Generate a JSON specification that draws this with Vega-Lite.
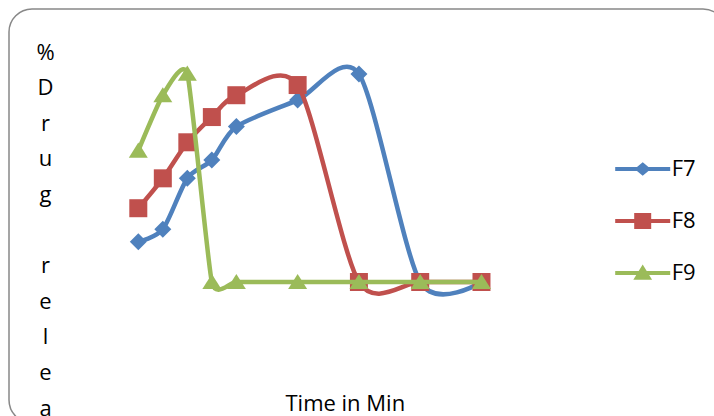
{
  "$schema": "https://vega.github.io/schema/vega-lite/v6.json",
  "width": 717,
  "height": 414,
  "autosize": {"type": "none"},
  "padding": {"left": 9, "top": 9, "right": -12, "bottom": -7},
  "background": "white",
  "config": {
    "view": {"stroke": "#888888", "strokeWidth": 1.5, "cornerRadius": 23},
    "font": "Open Sans"
  },
  "data": {
    "values": [
      {"series": "F7", "time": 2, "release": 19.0},
      {"series": "F7", "time": 4, "release": 24.9},
      {"series": "F7", "time": 6, "release": 48.9},
      {"series": "F7", "time": 8, "release": 57.5},
      {"series": "F7", "time": 10, "release": 73.3},
      {"series": "F7", "time": 15, "release": 85.8},
      {"series": "F7", "time": 20, "release": 98.1},
      {"series": "F7", "time": 25, "release": 0},
      {"series": "F7", "time": 30, "release": 0},
      {"series": "F8", "time": 2, "release": 34.8},
      {"series": "F8", "time": 4, "release": 48.9},
      {"series": "F8", "time": 6, "release": 65.9},
      {"series": "F8", "time": 8, "release": 77.8},
      {"series": "F8", "time": 10, "release": 88.1},
      {"series": "F8", "time": 15, "release": 92.9},
      {"series": "F8", "time": 20, "release": 0},
      {"series": "F8", "time": 25, "release": 0},
      {"series": "F8", "time": 30, "release": 0},
      {"series": "F9", "time": 2, "release": 62.0},
      {"series": "F9", "time": 4, "release": 88.1},
      {"series": "F9", "time": 6, "release": 98.3},
      {"series": "F9", "time": 8, "release": 0},
      {"series": "F9", "time": 10, "release": 0},
      {"series": "F9", "time": 15, "release": 0},
      {"series": "F9", "time": 20, "release": 0},
      {"series": "F9", "time": 25, "release": 0},
      {"series": "F9", "time": 30, "release": 0}
    ]
  },
  "encoding": {
    "x": {
      "field": "time",
      "type": "quantitative",
      "scale": {"domain": [-8.55, 49.95], "nice": false, "zero": false},
      "axis": {
        "title": "Time in Min",
        "labels": false, "ticks": false, "domain": false, "grid": false,
        "titleX": 335.8, "titleY": -12.3,
        "titleAlign": "center", "titleBaseline": "alphabetic",
        "titleFont": "Open Sans", "titleFontSize": 22, "titleFontWeight": "normal", "titleColor": "#000000"
      }
    },
    "y": {
      "field": "release",
      "type": "quantitative",
      "scale": {"domain": [-66.51, 128.77], "nice": false, "zero": false},
      "axis": {
        "title": ["%", "D", "r", "u", "g", "\u200b", "r", "e", "l", "e", "a", "s", "e"],
        "labels": false, "ticks": false, "domain": false, "grid": false,
        "titleAngle": 0,
        "titleX": 36, "titleY": 50,
        "titleAlign": "center", "titleBaseline": "alphabetic",
        "titleLineHeight": 35.6,
        "titleFont": "Open Sans", "titleFontSize": 22, "titleFontWeight": "normal", "titleColor": "#000000"
      }
    },
    "color": {
      "field": "series",
      "type": "nominal",
      "scale": {"domain": ["F7", "F8", "F9"], "range": ["#4F81BD", "#C0504D", "#9BBB59"]},
      "legend": {
        "title": null,
        "orient": "none",
        "legendX": 621.7,
        "legendY": 148,
        "padding": 0,
        "labelFont": "Open Sans",
        "labelFontSize": 22,
        "labelColor": "#000000",
        "labelOffset": 17,
        "symbolSize": 400,
        "rowPadding": 25,
        "symbolStrokeWidth": 4,
        "symbolOpacity": 1
      }
    }
  },
  "layer": [
    {"transform": [{"filter": "datum.series === 'F7'"}], "mark": {"type": "line", "interpolate": "cardinal", "tension": 0.2, "strokeWidth": 4.5}},
    {"transform": [{"filter": "datum.series === 'F7'"}], "mark": {"type": "point", "shape": "diamond", "filled": true, "opacity": 1, "size": 289}},
    {"transform": [{"filter": "datum.series === 'F8'"}], "mark": {"type": "line", "interpolate": "cardinal", "tension": 0.2, "strokeWidth": 4.5}},
    {"transform": [{"filter": "datum.series === 'F8'"}], "mark": {"type": "point", "shape": "square", "filled": true, "opacity": 1, "size": 324}},
    {"transform": [{"filter": "datum.series === 'F9'"}], "mark": {"type": "line", "interpolate": "cardinal", "tension": 0.5, "strokeWidth": 4.5}},
    {"transform": [{"filter": "datum.series === 'F9'"}], "mark": {"type": "point", "shape": "M0,-0.85L1,0.75L-1,0.75Z", "filled": true, "opacity": 1, "size": 361}},
    {
      "mark": {"type": "point", "filled": true, "opacity": 0},
      "encoding": {
        "shape": {
          "field": "series",
          "type": "nominal",
          "scale": {
            "domain": ["F7", "F8", "F9"],
            "range": [
              "M-2.75,0L2.75,0M0,-0.42L0.5,0L0,0.42L-0.5,0Z",
              "M-2.75,0L2.75,0M-0.65,-0.6L0.65,-0.6L0.65,0.6L-0.65,0.6Z",
              "M-2.75,0L2.75,0M0,-0.47L0.58,0.47L-0.58,0.47Z"
            ]
          },
          "legend": {
            "title": null,
            "orient": "none",
            "legendX": 621.7,
            "legendY": 148,
            "padding": 0,
            "labelFont": "Open Sans",
            "labelFontSize": 22,
            "labelColor": "#000000",
            "labelOffset": 17,
            "symbolSize": 400,
            "rowPadding": 25,
            "symbolStrokeWidth": 4,
            "symbolOpacity": 1
          }
        }
      }
    }
  ]
}
